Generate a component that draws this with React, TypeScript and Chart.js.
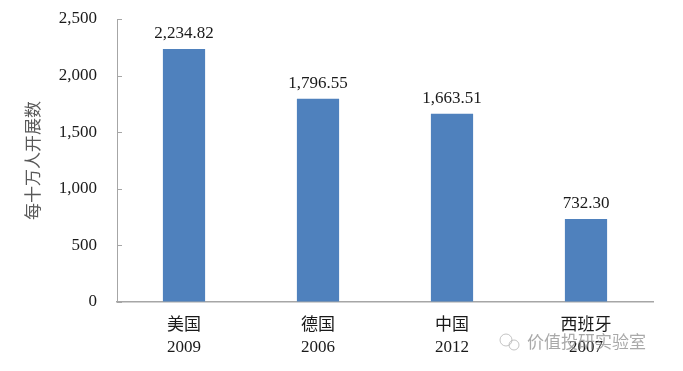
import React, { useEffect, useRef } from "react";
import { Chart, registerables } from "chart.js";

Chart.register(...registerables);

const categories = [["美国", "2009"], ["德国", "2006"], ["中国", "2012"], ["西班牙", "2007"]];
const values = [2234.82, 1796.55, 1663.51, 732.3];
const yTicks = [0, 500, 1000, 1500, 2000, 2500];
const yTitle = "每十万人开展数";
const watermark = "价值投研实验室";

const PLOT_LEFT = 117;
const PLOT_TOP = 19;
const PLOT_BOTTOM = 302;
const W = 683;
const H = 371;

const fmt = (v: number, d: number) =>
  v.toLocaleString("en-US", { minimumFractionDigits: d, maximumFractionDigits: d });

const extras = {
  id: "extras",
  afterDatasetsDraw(chart: any) {
    const ctx = chart.ctx;
    const meta = chart.getDatasetMeta(0);
    ctx.save();
    ctx.fillStyle = "#1a1a1a";
    ctx.font = "17px 'Liberation Serif', 'Times New Roman', serif";
    ctx.textAlign = "center";
    ctx.textBaseline = "bottom";
    meta.data.forEach((bar: any, i: number) => {
      ctx.fillText(fmt(values[i], 2), bar.x, bar.y - 7);
    });
    const y = chart.scales.y;
    ctx.strokeStyle = "#a6a6a6";
    ctx.lineWidth = 1;
    yTicks.forEach((t) => {
      const py = Math.round(y.getPixelForValue(t)) + 0.5;
      ctx.beginPath();
      ctx.moveTo(chart.chartArea.left, py);
      ctx.lineTo(chart.chartArea.left + 5, py);
      ctx.stroke();
    });
    ctx.globalAlpha = 0.75;
    ctx.fillStyle = "#8c8c8c";
    ctx.font = "17px 'Noto Sans CJK SC', sans-serif";
    ctx.textAlign = "left";
    ctx.textBaseline = "middle";
    ctx.fillText(watermark, 527, 342);
    ctx.strokeStyle = "#b0b0b0";
    ctx.beginPath();
    ctx.arc(506, 340, 6, 0, Math.PI * 2);
    ctx.stroke();
    ctx.beginPath();
    ctx.arc(514, 345, 5, 0, Math.PI * 2);
    ctx.stroke();
    ctx.restore();
  },
};

export default function App() {
  const ref = useRef<HTMLCanvasElement>(null);
  useEffect(() => {
    if (!ref.current) return;
    const chart = new Chart(ref.current, {
      type: "bar",
      data: {
        labels: categories,
        datasets: [
          {
            data: values,
            backgroundColor: "#4F81BD",
            borderWidth: 0,
            categoryPercentage: 1,
            barPercentage: 0.315,
          },
        ],
      },
      options: {
        animation: false,
        responsive: false,
        layout: { padding: { left: 0, top: PLOT_TOP, right: W - 653, bottom: 0 } },
        plugins: { legend: { display: false }, tooltip: { enabled: false } },
        scales: {
          x: {
            grid: { display: false, drawTicks: false },
            border: { display: true, color: "#a6a6a6", width: 1.5 },
            ticks: {
              color: "#1a1a1a",
              padding: 12,
              font: { family: "'Liberation Serif', 'Noto Sans CJK SC', serif", size: 17, lineHeight: 1.3 },
            },
            afterFit(s: any) {
              s.height = H - PLOT_BOTTOM;
            },
          },
          y: {
            min: 0,
            max: 2500,
            afterBuildTicks(s: any) {
              s.ticks = yTicks.map((v) => ({ value: v }));
            },
            grid: {
              display: true,
              drawOnChartArea: false,
              drawTicks: true,
              tickLength: 20,
              color: "rgba(0,0,0,0)",
            },
            border: { display: true, color: "#a6a6a6", width: 1 },
            ticks: {
              color: "#1a1a1a",
              padding: 0,
              font: { family: "'Liberation Serif', 'Times New Roman', serif", size: 17 },
              callback: (v: any) => fmt(Number(v), 0),
            },
            title: {
              display: true,
              text: yTitle,
              color: "#595959",
              padding: { top: 22, bottom: 0 },
              font: { family: "'Noto Sans CJK SC', sans-serif", size: 17 },
            },
            afterFit(s: any) {
              s.width = PLOT_LEFT;
            },
          },
        },
      },
      plugins: [extras],
    });
    return () => chart.destroy();
  }, []);
  return (
    <div style={{ position: "fixed", left: 0, top: 0, width: W, height: H, background: "#fff" }}>
      <canvas ref={ref} width={W} height={H} style={{ display: "block" }} />
    </div>
  );
}
